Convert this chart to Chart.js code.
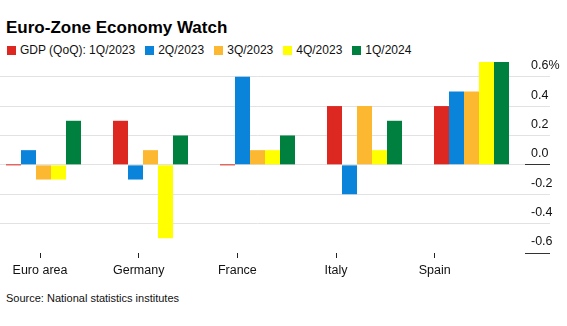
<!DOCTYPE html>
<html>
<head>
<meta charset="utf-8">
<script src="https://cdn.jsdelivr.net/npm/chart.js@4"></script>
<style>
  html, body { margin: 0; padding: 0; background: #fff; }
  body { width: 567px; height: 326px; position: relative; overflow: hidden; font-family: "Liberation Sans", Arial, sans-serif; color: #000; }
  #title { position: absolute; left: 6px; top: 19px; font-size: 17px; line-height: 17px; font-weight: bold; white-space: nowrap; }
  #legend { position: absolute; left: 7px; top: 44px; font-size: 12px; line-height: 12px; display: flex; white-space: nowrap; color: #111; }
  .item { display: flex; align-items: center; margin-right: 10px; }
  .box { width: 9px; height: 9px; margin-right: 4px; }
  #source { position: absolute; left: 6px; top: 293px; font-size: 11px; line-height: 11px; color: #111; white-space: nowrap; }
  #myChart { position: absolute; left: -10px; top: 56px; }
</style>
</head>
<body>
<div id="title">Euro-Zone Economy Watch</div>
<div id="legend"></div>
<canvas id="myChart" width="577" height="229"></canvas>
<div id="source">Source: National statistics institutes</div>
<script>
// data
const categories = ['Euro area', 'Germany', 'France', 'Italy', 'Spain'];
const seriesNames = ['GDP (QoQ): 1Q/2023', '2Q/2023', '3Q/2023', '4Q/2023', '1Q/2024'];
const gdp1Q2023 = [0.0, 0.3, 0.0, 0.4, 0.4];
const gdp2Q2023 = [0.1, -0.1, 0.6, -0.2, 0.5];
const gdp3Q2023 = [-0.1, 0.1, 0.1, 0.4, 0.5];
const gdp4Q2023 = [-0.1, -0.5, 0.1, 0.1, 0.7];
const gdp1Q2024 = [0.3, 0.2, 0.2, 0.3, 0.7];
const yTickValues = [-0.6, -0.4, -0.2, 0.0, 0.2, 0.4, 0.6];
const yTickLabels = ['-0.6', '-0.4', '-0.2', '0.0', '0.2', '0.4', '0.6%'];

const seriesValues = [gdp1Q2023, gdp2Q2023, gdp3Q2023, gdp4Q2023, gdp1Q2024];
const seriesColors = ['#dc2820', '#0a84db', '#fdb831', '#ffff00', '#00803e'];

// legend
const legend = document.getElementById('legend');
seriesNames.forEach((name, i) => {
  const item = document.createElement('div');
  item.className = 'item';
  const box = document.createElement('span');
  box.className = 'box';
  box.style.background = seriesColors[i];
  item.appendChild(box);
  item.appendChild(document.createTextNode(name));
  legend.appendChild(item);
});

Chart.defaults.font.family = '"Liberation Sans", Arial, sans-serif';
Chart.defaults.color = '#111';

// setup
const data = {
  labels: categories,
  datasets: seriesNames.map((name, i) => ({
    label: name,
    data: seriesValues[i],
    backgroundColor: seriesColors[i],
    borderWidth: 0,
    minBarLength: 1,
    categoryPercentage: 0.701,
    barPercentage: 1,
    xAxisID: 'x',
    yAxisID: 'y'
  }))
};

const isDark = (v) => Math.abs(v) < 1e-9 || Math.abs(v + 0.6) < 1e-9;

// config
const config = {
  type: 'bar',
  data,
  options: {
    responsive: false,
    animation: false,
    devicePixelRatio: 1,
    layout: { padding: { top: 6, left: 0, right: 0, bottom: 0 } },
    plugins: {
      legend: { display: false },
      tooltip: { enabled: false }
    },
    scales: {
      x: {
        type: 'category',
        display: false,
        offset: true
      },
      // label axis: slightly narrower spacing than the bar groups, as in the original
      xl: {
        type: 'linear',
        position: 'bottom',
        offset: false,
        min: -0.507,
        max: 4.915,
        afterBuildTicks: (scale) => { scale.ticks = categories.map((c, i) => ({ value: i })); },
        afterFit: (scale) => { scale.height = 32; },
        ticks: {
          callback: (v) => categories[v],
          font: { size: 12.5 },
          color: '#111',
          padding: 5,
          maxRotation: 0,
          autoSkip: false
        },
        grid: { offset: false, drawOnChartArea: false, drawTicks: true, tickLength: 5, tickColor: '#222' },
        border: { display: false }
      },
      y: {
        position: 'right',
        min: -0.6,
        max: 0.7,
        afterBuildTicks: (scale) => { scale.ticks = yTickValues.map(v => ({ value: v })); },
        afterFit: (scale) => { scale.width = 42; },
        ticks: {
          callback: (v, i) => yTickLabels[i],
          font: { size: 12.5 },
          color: '#111',
          labelOffset: -11,
          padding: -19
        },
        grid: {
          color: (ctx) => (ctx.tick && Math.abs(ctx.tick.value + 0.6) < 1e-9) ? 'rgba(0,0,0,0)' : '#e2e2e2',
          tickColor: (ctx) => (ctx.tick && isDark(ctx.tick.value)) ? '#333' : '#e2e2e2',
          tickLength: 25,
          lineWidth: 1
        },
        border: { display: false }
      }
    }
  }
};

// render init block
const myChart = new Chart(document.getElementById('myChart'), config);
</script>
</body>
</html>
